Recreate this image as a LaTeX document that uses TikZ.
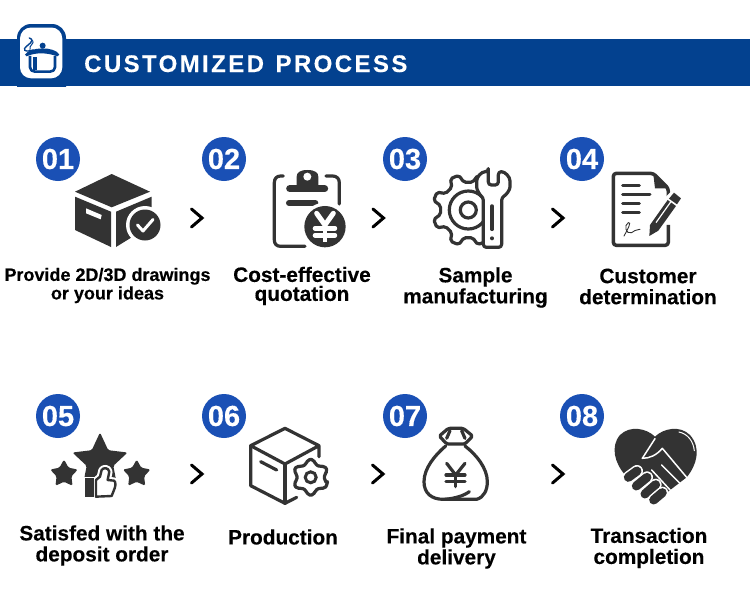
\documentclass[tikz,border=0pt]{standalone}
\usepackage{fontspec}
\setmainfont{Liberation Sans}
\newfontfamily\heavy[FakeBold=0.25]{Liberation Sans Bold}
\newfontfamily\heavytitle[FakeBold=0.25,LetterSpace=10]{Liberation Sans Bold}
\definecolor{banner}{HTML}{03418F}
\definecolor{badge}{HTML}{1A50B5}
\definecolor{ink}{HTML}{333333}
\newcommand{\gearoutline}[4]{% teeth step, offset, outer, inner
  \foreach \a in {0,#1,...,359}{
    -- ({\a+#2-0.16*#1}:#3) -- ({\a+#2+0.16*#1}:#3) -- ({\a+#2+0.3*#1}:#4) -- ({\a+#2+0.7*#1}:#4)
  }}
\newcommand{\starpath}[2]{% outer, inner
  (-90:#1) -- (-54:#2) -- (-18:#1) -- (18:#2) -- (54:#1) -- (90:#2) -- (126:#1) -- (162:#2) -- (198:#1) -- (234:#2) -- cycle}
\tikzset{
  zm/.style 2 args={shift={(#1,#2)},x=0.3333pt,y=-0.3333pt},
  badgecirc/.style={circle,fill=badge,minimum size=44pt,inner sep=0pt,text=white,font=\heavy\fontsize{29}{30}\selectfont},
  caption/.style={align=center,text=black,inner sep=0pt,font=\heavy\fontsize{20.8}{#1}\selectfont},
  caption/.default=21,
  chevron/.style={draw=black,line width=3pt,line cap=round,line join=miter,fill=none},
  iconline/.style={draw=ink,line width=3.2pt,line cap=round,line join=round,fill=none},
  iconfill/.style={fill=ink,draw=none},
}
\begin{document}
\begin{tikzpicture}[x=1pt,y=-1pt]
\useasboundingbox (0,0) rectangle (750,600);
\fill[white] (0,0) rectangle (750,600);
% banner
\fill[banner] (0,39) rectangle (750,86);
\begin{scope}
  \clip (0,0) rectangle (750,86);
  \fill[banner,rounded corners=14pt] (17,24) rectangle (66,110);
\end{scope}
\fill[white,rounded corners=11pt] (20,27.5) rectangle (62.3,78.3);
\node[anchor=base west,inner sep=0pt,text=white,font=\heavytitle\fontsize{24}{26}\selectfont] (title) at (84,72) {CUSTOMIZED\hspace{2.5pt} PROCESS};
% pot
\begin{scope}[zm={0}{10}]
  \draw[banner,line width=2.6pt,line join=round] (90,138) -- (90,172) .. controls (90,180) and (97,185) .. (105,185) -- (150,185) .. controls (158,185) and (165,180) .. (165,172) -- (165,138);
  \fill[banner] (100,140) rectangle (110,180);
  \fill[banner] (75,134) .. controls (88,110) and (165,108) .. (178,134) -- (172,139) .. controls (140,127) and (105,127) .. (80,139) -- cycle;
  \fill[banner] (128,107) circle[radius=9];
  \draw[banner,line width=1.4pt,line cap=round] (88,84) .. controls (110,92) and (80,105) .. (74,115) .. controls (70,125) and (85,125) .. (100,120);
  \draw[banner,line width=1pt,line cap=round] (98,92) .. controls (105,100) and (85,108) .. (90,118);
\end{scope}
% numbered badges
\node[badgecirc] (b1) at (58,159) {01};
\node[badgecirc] (b2) at (224,159) {02};
\node[badgecirc] (b3) at (405,159) {03};
\node[badgecirc] (b4) at (582,159) {04};
\node[badgecirc] (b5) at (58,416) {05};
\node[badgecirc] (b6) at (224,416) {06};
\node[badgecirc] (b7) at (405,416) {07};
\node[badgecirc] (b8) at (582,416) {08};
% chevrons
\foreach \cx/\cy in {191.5/209,373/209,552.5/209,191.5/465,372.5/465,552.5/465}{
  \draw[chevron] (\cx,\cy) -- (\cx+10.5,\cy+9) -- (\cx,\cy+18);
}
% icon 1: box
\fill[ink] (111.7,174) -- (150,191.7) -- (111.7,207.3) -- (75,191.7) -- cycle;
\fill[ink] (75,196.7) -- (111,211.7) -- (111,247) -- (75,230) -- cycle;
\fill[ink] (116,211.7) -- (151.7,196.7) -- (151.7,225) -- (116,247) -- cycle;
\fill[white] (86,208.3) -- (101.7,215) -- (100.7,219.3) -- (86,213.3) -- cycle;
\fill[white] (145,225) circle[radius=19];
\fill[ink] (145,225) circle[radius=15.5];
\draw[white,line width=3pt,line cap=round,line join=round] (137.5,225) -- (143,231) -- (153,219.5);
% icon 2: clipboard
\begin{scope}[zm={250}{130}]
  \draw[iconline] (100,138) -- (92,138) .. controls (80,138) and (73,146) .. (73,158) -- (73,330) .. controls (73,342) and (80,349) .. (92,349) -- (165,349);
  \draw[iconline] (228,138) -- (248,138) .. controls (260,138) and (268,146) .. (268,158) -- (268,222);
  \fill[ink] (140,175) -- (140,140) .. controls (140,128) and (150,120) .. (172,120) .. controls (195,120) and (205,128) .. (205,140) -- (205,175) -- cycle;
  \fill[white] (172,140) circle[radius=12];
  \draw[ink,line width=7pt,line cap=round] (119,176) -- (224,176);
  \draw[ink,line width=6pt,line cap=round] (117,219) -- (196,219);
  \fill[white] (225,290) circle[radius=72];
  \fill[ink] (225,290) circle[radius=62];
  \draw[white,line width=5pt,line cap=round] (200,250) -- (225,285) -- (250,250);
  \draw[white,line width=4.5pt] (225,285) -- (225,335);
  \draw[white,line width=4.5pt,line cap=round] (195,295) -- (255,295) (195,316) -- (255,316);
\end{scope}
% icon 3: gear and wrench
\begin{scope}
  \clip (420,160) rectangle (490,260);
  \begin{scope}[shift={(468.3,210)}]
    \draw[iconline,rounded corners=2pt] (22.5-0.16*45:36) \gearoutline{45}{22.5}{36}{28} -- cycle;
    \draw[ink,line width=3.2pt] (0,0) circle[radius=19];
    \draw[ink,line width=3.2pt] (0,0) circle[radius=8];
  \end{scope}
\end{scope}
\begin{scope}[zm={420}{160}]
  \draw[draw=ink,line width=3.2pt,line join=round,fill=white,rounded corners=3pt] (205,35) -- (205,75) -- (235,75) -- (235,35) .. controls (255,35) and (270,50) .. (270,72) .. controls (270,90) and (258,105) .. (245,112) -- (245,262) -- (190,262) -- (190,112) .. controls (180,105) and (170,90) .. (170,72) .. controls (170,50) and (185,35) .. (205,35) -- cycle;
  \draw[ink,line width=3.5pt,line cap=round] (216,138) -- (216,208);
  \fill[ink] (216,235) circle[radius=6];
\end{scope}
% icon 4: document
\begin{scope}[zm={600}{160}]
  \draw[draw=ink,line width=3.5pt,line join=round,rounded corners=3pt] (205,110) -- (205,85) -- (160,40) -- (40,40) -- (40,256) -- (205,256) -- (205,195);
  \fill[ink] (160,42) -- (205,85) -- (165,85) -- cycle;
  \foreach \ly/\lx in {77/118,103/150,130/118,157/118}{
    \draw[ink,line width=3pt,line cap=round] (68,\ly) -- (\lx,\ly);
  }
  \draw[ink,line width=0.9pt,line cap=round] (72,228) .. controls (85,205) and (95,185) .. (85,188) .. controls (70,195) and (78,225) .. (95,218) .. controls (105,212) and (100,212) .. (120,208);
  \fill[white] (142,235) -- (143,190) -- (200,108) -- (222,85) -- (255,112) -- (233,140) -- (178,220) -- cycle;
  \fill[ink] (148,228) -- (150,195) -- (203,120) -- (228,138) -- (175,212) -- cycle;
  \fill[ink] (207,116) -- (222,98) -- (243,115) -- (231,133) -- cycle;
  \draw[white,line width=1.2pt] (168,188) -- (212,126);
\end{scope}
% icon 5: stars and thumb
\begin{scope}[shift={(100,461.5)}]
  \fill[ink,rounded corners=1.5pt] \starpath{29}{14};
\end{scope}
\begin{scope}[shift={(64,474)}]
  \fill[ink,rounded corners=1.5pt] \starpath{14.5}{7.8};
\end{scope}
\begin{scope}[shift={(136.7,474)}]
  \fill[ink,rounded corners=1.5pt] \starpath{14.5}{7.8};
\end{scope}
\begin{scope}[zm={40}{420}]
  \fill[white] (125,170) rectangle (170,240);
  \draw[white,line width=6.5pt,line join=round] (168,180) -- (180,170) -- (185,150) .. controls (190,142) and (205,142) .. (208,155) -- (203,180) -- (222,182) .. controls (230,185) and (225,205) .. (222,210) -- (215,228) -- (168,230) -- cycle;
  \draw[draw=ink,fill=white,line width=2.4pt,line join=round] (168,180) -- (180,170) -- (185,150) .. controls (190,142) and (205,142) .. (208,155) -- (203,180) -- (222,182) .. controls (230,185) and (225,205) .. (222,210) -- (215,228) -- (168,230) -- cycle;
  \fill[ink] (135,175) rectangle (163,232);
\end{scope}
% icon 6: open box and gear
\begin{scope}[zm={240}{420}]
  \draw[iconline] (237,110) -- (237,77) -- (135,25) -- (32,77) -- (135,132) -- (237,77);
  \draw[iconline] (32,77) -- (32,197) -- (135,250) -- (170,232);
  \draw[iconline] (135,132) -- (135,250);
  \draw[iconline] (62,125) -- (110,150);
\end{scope}
\begin{scope}[shift={(310.7,477.3)}]
  \draw[iconline,rounded corners=2pt] (30-0.16*60:18) \gearoutline{60}{30}{18}{14} -- cycle;
  \draw[ink,line width=3pt] (0,0) circle[radius=5.5];
\end{scope}
% icon 7: money bag
\begin{scope}[zm={410}{420}]
  \draw[iconline,rounded corners=1.5pt] (115,25) -- (160,25) -- (188,48) -- (165,72) -- (110,72) -- (88,48) -- cycle;
  \draw[iconline] (120,32) -- (110,55) (155,32) -- (165,55);
  \draw[iconline] (107,78) .. controls (75,105) and (42,145) .. (42,185) .. controls (42,220) and (65,238) .. (100,238) -- (200,238) .. controls (222,232) and (232,210) .. (232,185) .. controls (232,145) and (200,105) .. (165,78);
  \draw[iconline] (105,238) .. controls (135,235) and (160,228) .. (178,215);
  \draw[iconline] (110,130) -- (137,165) -- (165,130);
  \draw[iconline] (108,165) -- (165,165) (108,185) -- (165,185) (137,165) -- (137,200);
\end{scope}
% icon 8: handshake heart
\begin{scope}[zm={605}{420}]
  \fill[ink] (150,50) .. controls (125,25) and (75,15) .. (45,45) .. controls (15,80) and (30,130) .. (60,165) -- (150,245) -- (245,172) .. controls (275,135) and (290,85) .. (255,45) .. controls (225,15) and (175,25) .. (150,50) -- cycle;
  \draw[white,line width=1.5pt,line join=round,line cap=round] (150,56) -- (112,115) .. controls (135,115) and (155,105) .. (172,85) -- (245,172);
  \draw[white,line width=1.5pt,line cap=round] (140,150) -- (200,215) (170,135) -- (225,190);
  \draw[white,line width=1pt,line cap=round] (222,36) .. controls (250,42) and (265,65) .. (268,92);
  \foreach \xa/\ya/\xb/\yb in {70/172/96/153,94/198/126/172,120/222/152/194,146/240/172/218}{
    \draw[white,line width=12pt,line cap=round] (\xa,\ya) -- (\xb,\yb);
    \draw[ink,line width=9pt,line cap=round] (\xa,\ya) -- (\xb,\yb);
  }
\end{scope}
% captions
\node[align=center,inner sep=0pt,font=\heavy\fontsize{18}{18.5}\selectfont] (c1) at (107.5,285.5) {Provide 2D/3D drawings\\or your ideas};
\node[caption=19] (c2) at (302,286) {Cost-effective\\quotation};
\node[caption] (c3) at (475.5,287.5) {Sample\\manufacturing};
\node[caption] (c4) at (648,286.5) {Customer\\determination};
\node[caption] (c5) at (102,545.5) {Satisfed with the\\deposit order};
\node[caption] (c6) at (283,537) {Production};
\node[caption] (c7) at (456.5,548.5) {Final payment\\delivery};
\node[caption] (c8) at (649,548) {Transaction\\completion};
\end{tikzpicture}
\end{document}
